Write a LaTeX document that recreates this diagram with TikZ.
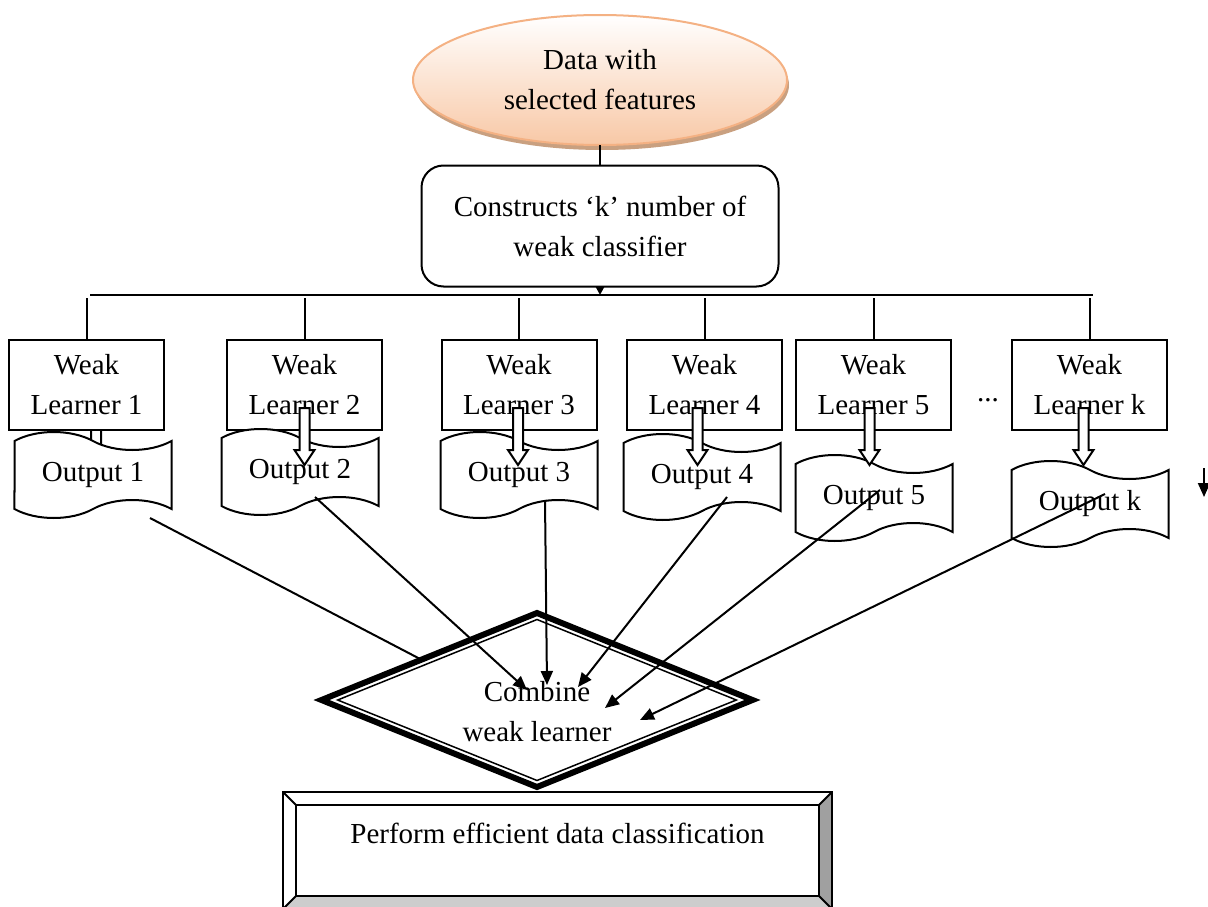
\documentclass[tikz,border=0pt]{standalone}
\usepackage{fontspec}
\setmainfont{Liberation Serif}
\usepackage{tikz}
\usetikzlibrary{arrows.meta,shapes.geometric,shapes.symbols,shadows,calc,positioning}
\definecolor{peachfill}{RGB}{248,200,166}
\definecolor{peachline}{RGB}{244,177,131}
\definecolor{peachshadow}{RGB}{201,160,128}
\definecolor{bevelright}{RGB}{160,160,160}
\definecolor{bevelbottom}{RGB}{205,205,205}

\begin{document}
\begin{tikzpicture}[x=1pt,y=-1pt,line width=2pt,>={Triangle[length=14pt,width=12pt]},
        font=\fontsize{29}{40}\selectfont]
        \tikzstyle{every node}=[align=center,inner sep=0pt,outer sep=0pt]
        \tikzstyle{source}=[ellipse,draw=peachline,line width=2pt,top color=white,bottom color=peachfill,
            minimum width=374pt,minimum height=130pt,
            drop shadow={shadow xshift=2pt,shadow yshift=-5pt,fill=peachshadow,opacity=1}]
        \tikzstyle{process}=[draw,rectangle,rounded corners=22pt,minimum width=357pt,minimum height=121pt]
        \tikzstyle{learner}=[draw,rectangle,fill=white,minimum width=155pt,minimum height=90pt]
        \tikzstyle{output}=[draw,tape,fill=white,minimum width=157pt,minimum height=86pt,
            tape bend top=out and in,tape bend bottom=in and out,tape bend height=18pt]
        \tikzstyle{hollow}=[draw,fill=white]
        \tikzstyle{combiner}=[diamond,draw,fill=white,line width=6pt,minimum width=431pt,minimum height=174pt]
        \tikzstyle{result}=[draw,rectangle,fill=white,minimum width=549pt,minimum height=117pt]

        \clip (0,0) rectangle (1208,907);

        \node[source]  (data)      at (600,80)  {Data with\\selected features};
        \node[process] (construct) at (600,226) {Constructs `k' number of\\weak classifier};
        \draw (data.south) -- (construct.north);

        \coordinate (busL) at (90,295);
        \coordinate (busR) at (1093,295);
        \draw (busL) -- (busR);
        \draw[-{Triangle[length=8pt,width=8pt]}] (construct.south) -- (construct.south |- busL);

        \coordinate (tail1) at (96,408);
        \draw[hollow] (tail1) ++(-5,0) -- ++(0,42) -- ++(-5,0) -- ++(10,15)
            -- ++(10,-15) -- ++(-5,0) -- ++(0,-42) -- cycle;

        \node[learner] (wl1) at (86.5,385)  {Weak\\Learner 1};
        \node[learner] (wl2) at (304.5,385) {Weak\\Learner 2};
        \node[learner] (wl3) at (519,385)   {Weak\\Learner 3};
        \node[learner] (wl4) at (704.5,385) {Weak\\Learner 4};
        \node[learner] (wl5) at (873.5,385) {Weak\\Learner 5};
        \node[learner] (wlk) at (1089.5,385) {Weak\\Learner k};
        \node (dots) at (988,400) {...};
        \foreach \i in {1,2,3,4,5,k}
            \draw ($(wl\i.north)+(0,-42)$) -- (wl\i.north);

        \node[output] (out1) at (93,475)   {Output 1};
        \node[output] (out2) at (300,472)  {Output 2};
        \node[output] (out3) at (519,475)  {Output 3};
        \node[output] (out4) at (702,477)  {Output 4};
        \node[output] (out5) at (874,498)  {Output 5};
        \node[output] (outk) at (1090,504) {Output k};

        \foreach \i/\dx in {2/0,3/-1,4/-7,5/-4,k/-6}
            \draw[hollow] ($(wl\i.south)+(\dx,-22)$) ++(-5,0) -- ++(0,42) -- ++(-5,0) -- ++(10,15)
                -- ++(10,-15) -- ++(-5,0) -- ++(0,-42) -- cycle;

        \coordinate (strayA) at (1204,468);
        \coordinate (strayB) at (1204,497);
        \draw[->] (strayA) -- (strayB);

        \draw ($(out1.center)+(57,43)$) -- (537,720);
        \node[combiner,label={[yshift=-12pt,align=center]center:Combine\\weak learner}] (combine) at (537,700) {};
        \draw[line width=1.5pt] ($(combine.center)!0.925!(combine.north)$) -- ($(combine.center)!0.925!(combine.east)$)
            -- ($(combine.center)!0.925!(combine.south)$) -- ($(combine.center)!0.925!(combine.west)$) -- cycle;

        \foreach \i/\sx/\sy/\ex/\ey in {2/15/25/-10/-10,3/26/25/10/-15,4/25/20/41/-13,5/6/-8/68/8,k/15/-10/103/20}
            \draw[->] ($(out\i.center)+(\sx,\sy)$) -- ($(combine.center)+(\ex,\ey)$);

        \node[result,label={[yshift=17pt]center:Perform efficient data classification}] (perform) at (557.5,850.5) {};
        \fill[bevelright] (perform.north east) -- (perform.south east) -- ($(perform.south east)+(-13,-13)$)
            -- ($(perform.north east)+(-13,13)$) -- cycle;
        \fill[bevelbottom] (perform.south west) -- (perform.south east) -- ($(perform.south east)+(-13,-13)$)
            -- ($(perform.south west)+(13,-13)$) -- cycle;
        \draw (perform.north west) rectangle (perform.south east);
        \draw ($(perform.north west)+(13,13)$) rectangle ($(perform.south east)+(-13,-13)$);
        \draw (perform.north west) -- ++(13,13) (perform.north east) -- ++(-13,13)
            (perform.south west) -- ++(13,-13) (perform.south east) -- ++(-13,-13);
\end{tikzpicture}
\end{document}
